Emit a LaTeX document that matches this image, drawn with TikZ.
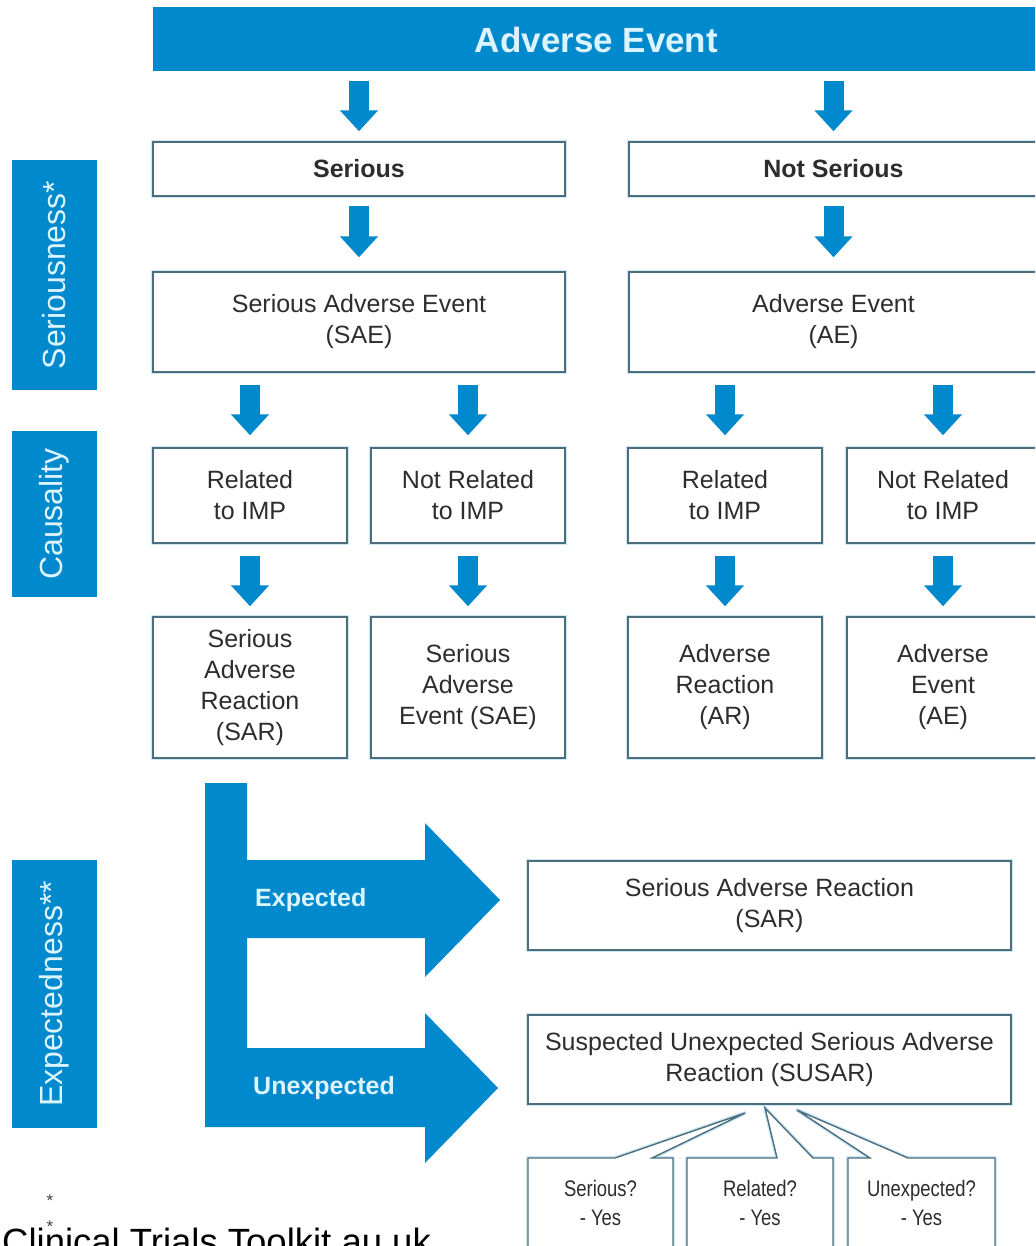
\documentclass[tikz,border=0pt]{standalone}
\usepackage{fontspec}
\setmainfont{Liberation Sans}
\newfontfamily\narrowfont[FakeStretch=0.82]{Liberation Sans}
\usetikzlibrary{arrows.meta}
\definecolor{aeblue}{RGB}{0,137,205}
\definecolor{boxline}{RGB}{75,110,125}
\definecolor{halo}{RGB}{205,232,244}
\definecolor{txt}{RGB}{45,45,45}
\definecolor{labtxt}{RGB}{220,244,255}
\begin{document}
\begin{tikzpicture}[x=1pt,y=-1pt,
  box/.style={draw=boxline, line width=1.4pt, fill=white,
    preaction={draw=halo, line width=4pt},
    inner sep=0pt, align=center, text=txt,
    font=\fontsize{25}{31}\selectfont},
  boldbox/.style={box, font=\bfseries\fontsize{25}{31}\selectfont},
  sidelabel/.style={fill=aeblue, inner sep=0pt, minimum width=85pt,
    text=labtxt, font=\fontsize{32}{36}\selectfont},
  bigarr/.style={draw=aeblue, line width=20pt,
    -{Triangle[width=37pt,length=21pt]}},
  callout/.style={draw=boxline, line width=1.4pt, fill=white,
    preaction={draw=halo, line width=4pt, line join=round}},
  calltxt/.style={align=center, text=txt, inner sep=0pt,
    font=\narrowfont\fontsize{22.5}{29}\selectfont},
  branchtxt/.style={anchor=west, inner sep=0pt, text=labtxt,
    font=\bfseries\fontsize{25}{30}\selectfont},
  startxt/.style={text=black!75, inner sep=0pt, font=\fontsize{17}{17}\selectfont}
]
\useasboundingbox (0,0) rectangle (1035,1246);
\clip (0,0) rectangle (1035,1246);

% title bar
\node[fill=aeblue, minimum width=887pt, minimum height=64pt, inner sep=0pt,
  text=labtxt, font=\bfseries\fontsize{35}{40}\selectfont] (bar) at (596.5,39.5) {Adverse Event};

% side labels
\node[sidelabel, minimum height=230pt] (lser) at (54.5,275) {};
\node[rotate=90, text=labtxt, font=\fontsize{32}{36}\selectfont] at (lser.center) {Seriousness*};
\node[sidelabel, minimum height=166pt] (lcau) at (54.5,514) {};
\node[rotate=90, text=labtxt, font=\fontsize{32}{36}\selectfont] at (lcau.center) {Causality};
\node[sidelabel, minimum height=268pt] (lexp) at (54.5,994) {};
\node[rotate=90, text=labtxt, font=\fontsize{32}{36}\selectfont] at (lexp.center) {Expectedness**};

% seriousness row
\node[boldbox, minimum width=412pt, minimum height=54pt] (ser) at (359,169) {Serious};
\node[boldbox, minimum width=409pt, minimum height=54pt] (nser) at (833.5,169) {Not Serious};
\node[box, minimum width=412pt, minimum height=100pt] (sae) at (359,322) {Serious Adverse Event\\(SAE)};
\node[box, minimum width=409pt, minimum height=100pt] (ae) at (833.5,322) {Adverse Event\\(AE)};

% causality row
\node[box, minimum width=194pt, minimum height=95pt] (rel1) at (250,495.5) {Related\\to IMP};
\node[box, minimum width=194pt, minimum height=95pt] (nrel1) at (468,495.5) {Not Related\\to IMP};
\node[box, minimum width=194pt, minimum height=95pt] (rel2) at (725,495.5) {Related\\to IMP};
\node[box, minimum width=192pt, minimum height=95pt] (nrel2) at (943,495.5) {Not Related\\to IMP};

% outcome row
\node[box, minimum width=194pt, minimum height=141pt] (o1) at (250,687.5) {Serious\\Adverse\\Reaction\\(SAR)};
\node[box, minimum width=194pt, minimum height=141pt] (o2) at (468,687.5) {Serious\\Adverse\\Event (SAE)};
\node[box, minimum width=194pt, minimum height=141pt] (o3) at (725,687.5) {Adverse\\Reaction\\(AR)};
\node[box, minimum width=192pt, minimum height=141pt] (o4) at (943,687.5) {Adverse\\Event\\(AE)};

% down arrows
\draw[bigarr, shorten <=9pt, shorten >=10pt] (bar.south -| ser.north) -- (ser.north);
\draw[bigarr, shorten <=9pt, shorten >=10pt] (bar.south -| nser.north) -- (nser.north);
\draw[bigarr, shorten <=9pt, shorten >=14pt] (ser.south) -- (sae.north);
\draw[bigarr, shorten <=9pt, shorten >=14pt] (nser.south) -- (ae.north);
\draw[bigarr, shorten <=12pt, shorten >=12pt] (sae.south -| rel1.north) -- (rel1.north);
\draw[bigarr, shorten <=12pt, shorten >=12pt] (sae.south -| nrel1.north) -- (nrel1.north);
\draw[bigarr, shorten <=12pt, shorten >=12pt] (ae.south -| rel2.north) -- (rel2.north);
\draw[bigarr, shorten <=12pt, shorten >=12pt] (ae.south -| nrel2.north) -- (nrel2.north);
\draw[bigarr, shorten <=12pt, shorten >=10pt] (rel1.south) -- (o1.north);
\draw[bigarr, shorten <=12pt, shorten >=10pt] (nrel1.south) -- (o2.north);
\draw[bigarr, shorten <=12pt, shorten >=10pt] (rel2.south) -- (o3.north);
\draw[bigarr, shorten <=12pt, shorten >=10pt] (nrel2.south) -- (o4.north);

% expectedness branching arrow
\fill[aeblue] (205,783) -- (247,783) -- (247,860) -- (425,860) -- (425,823)
  -- (500,900) -- (425,977) -- (425,938) -- (247,938) -- (247,1048)
  -- (425,1048) -- (425,1013) -- (498,1088) -- (425,1163) -- (425,1127)
  -- (205,1127) -- cycle;
\node[branchtxt] (exptxt) at (255,900) {Expected};
\node[branchtxt] (unexptxt) at (253,1088) {Unexpected};

% result boxes
\node[box, minimum width=483pt, minimum height=89pt] (sar) at (769.5,905.5) {Serious Adverse Reaction\\(SAR)};
\node[box, minimum width=483pt, minimum height=89pt] (susar) at (769.5,1059.5) {Suspected Unexpected Serious Adverse\\Reaction (SUSAR)};

% callouts
\draw[callout] (528,1158) -- (615,1158) -- (745,1113) -- (652,1158) -- (673,1158)
  -- (673,1262) -- (528,1262) -- cycle;
\draw[callout] (687,1158) -- (777,1158) -- (765,1108) -- (813,1158) -- (833,1158)
  -- (833,1262) -- (687,1262) -- cycle;
\draw[callout] (848,1158) -- (870,1158) -- (797,1110) -- (908,1158) -- (995,1158)
  -- (995,1262) -- (848,1262) -- cycle;
\node[calltxt] (q1) at (600.5,1203) {Serious?\\- Yes};
\node[calltxt] (q2) at (760,1203) {Related?\\- Yes};
\node[calltxt] (q3) at (921.5,1203) {Unexpected?\\- Yes};

% footer
\node[startxt] (st1) at (50,1201) {*};
\node[startxt] (st2) at (50,1227) {*};
\node[anchor=base west, inner sep=0pt, text=black, font=\fontsize{36.5}{40}\selectfont] (src) at (2,1254) {Clinical Trials Toolkit au uk};
\end{tikzpicture}
\end{document}
